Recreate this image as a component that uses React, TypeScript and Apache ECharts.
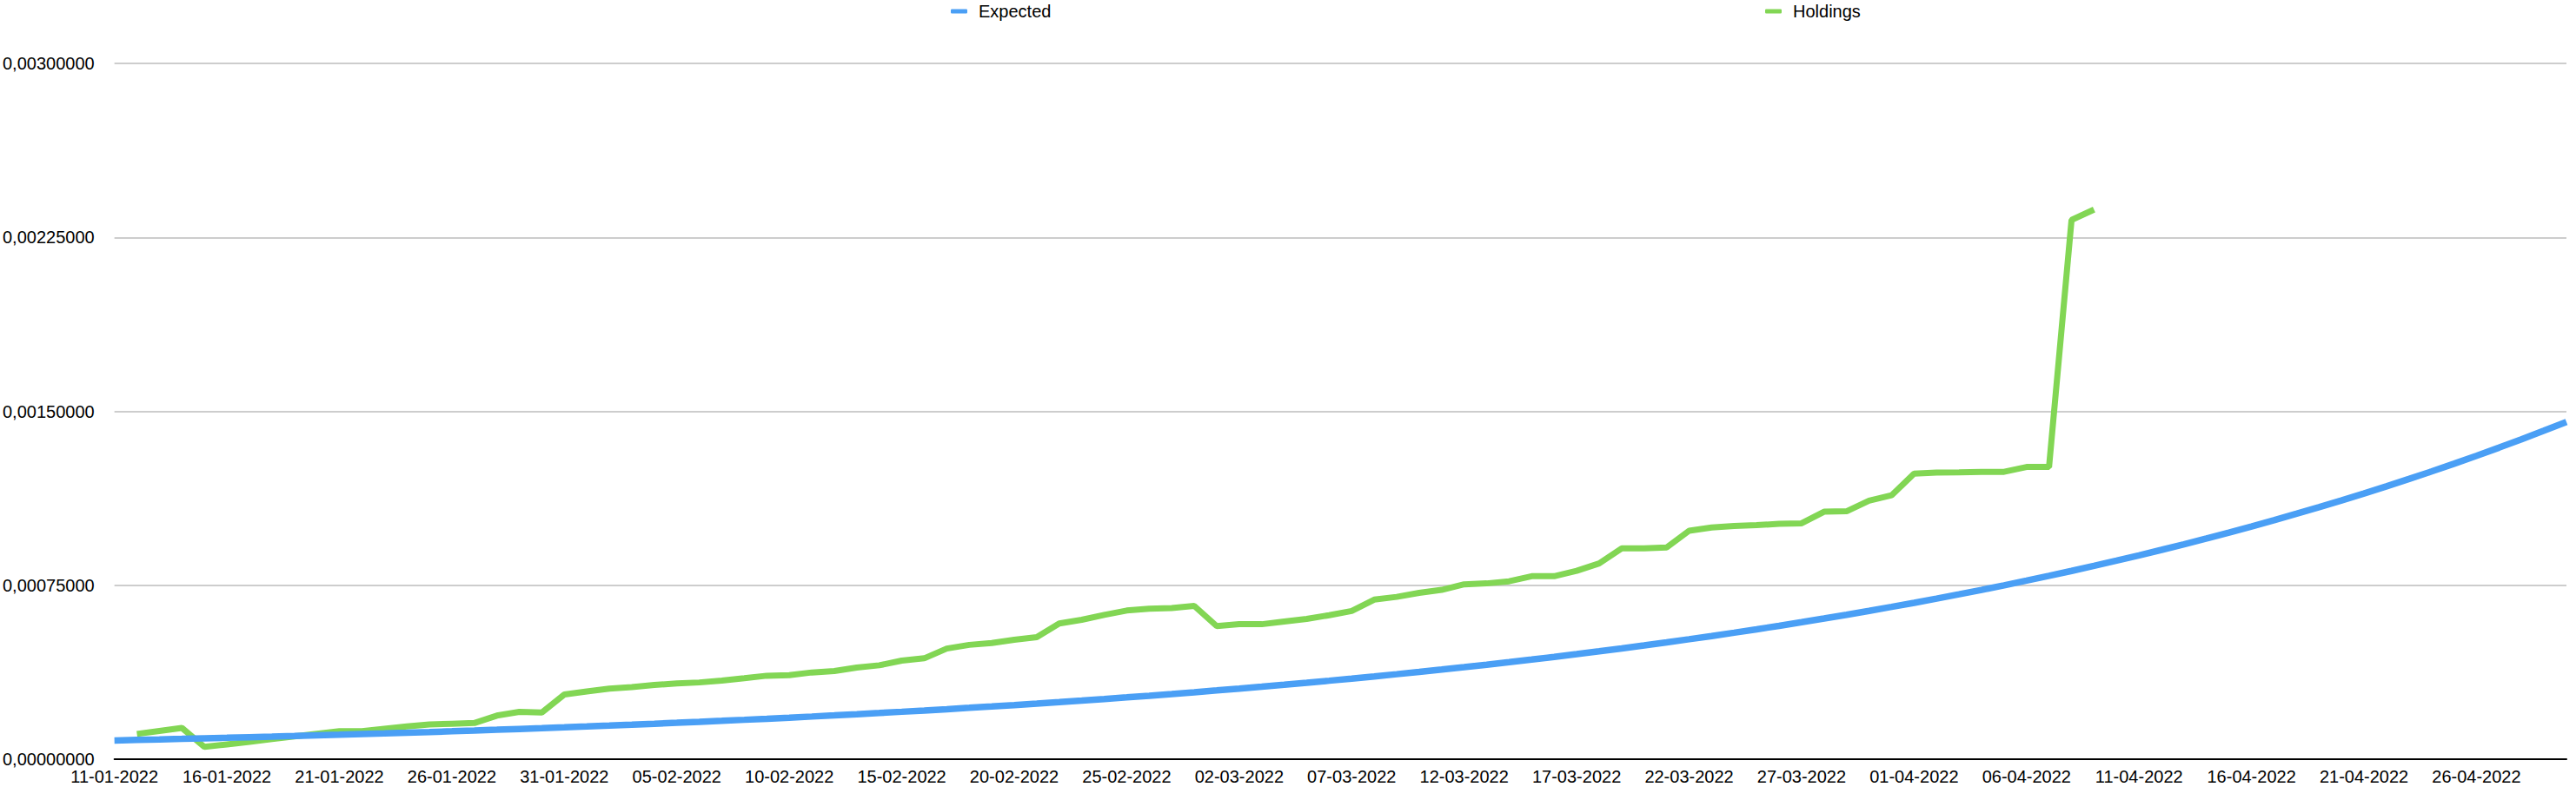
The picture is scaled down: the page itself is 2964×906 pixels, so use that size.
import React, { useEffect, useRef } from "react";
import * as echarts from "echarts";

const dates: string[] = [
  "11-01-2022","12-01-2022","13-01-2022","14-01-2022","15-01-2022","16-01-2022","17-01-2022","18-01-2022","19-01-2022","20-01-2022",
  "21-01-2022","22-01-2022","23-01-2022","24-01-2022","25-01-2022","26-01-2022","27-01-2022","28-01-2022","29-01-2022","30-01-2022",
  "31-01-2022","01-02-2022","02-02-2022","03-02-2022","04-02-2022","05-02-2022","06-02-2022","07-02-2022","08-02-2022","09-02-2022",
  "10-02-2022","11-02-2022","12-02-2022","13-02-2022","14-02-2022","15-02-2022","16-02-2022","17-02-2022","18-02-2022","19-02-2022",
  "20-02-2022","21-02-2022","22-02-2022","23-02-2022","24-02-2022","25-02-2022","26-02-2022","27-02-2022","28-02-2022","01-03-2022",
  "02-03-2022","03-03-2022","04-03-2022","05-03-2022","06-03-2022","07-03-2022","08-03-2022","09-03-2022","10-03-2022","11-03-2022",
  "12-03-2022","13-03-2022","14-03-2022","15-03-2022","16-03-2022","17-03-2022","18-03-2022","19-03-2022","20-03-2022","21-03-2022",
  "22-03-2022","23-03-2022","24-03-2022","25-03-2022","26-03-2022","27-03-2022","28-03-2022","29-03-2022","30-03-2022","31-03-2022",
  "01-04-2022","02-04-2022","03-04-2022","04-04-2022","05-04-2022","06-04-2022","07-04-2022","08-04-2022","09-04-2022","10-04-2022",
  "11-04-2022","12-04-2022","13-04-2022","14-04-2022","15-04-2022","16-04-2022","17-04-2022","18-04-2022","19-04-2022","20-04-2022",
  "21-04-2022","22-04-2022","23-04-2022","24-04-2022","25-04-2022","26-04-2022","27-04-2022","28-04-2022","29-04-2022","30-04-2022",
];

const expected: number[] = [
  80.9e-6, 83.07e-6, 85.3e-6, 87.6e-6, 89.95e-6, 92.36e-6, 94.85e-6, 97.39e-6, 100.01e-6, 102.7e-6,
  105.45e-6, 108.29e-6, 111.2e-6, 114.18e-6, 117.25e-6, 120.4e-6, 123.63e-6, 126.95e-6, 130.36e-6, 133.86e-6,
  137.46e-6, 141.15e-6, 144.94e-6, 148.84e-6, 152.83e-6, 156.94e-6, 161.16e-6, 165.48e-6, 169.93e-6, 174.49e-6,
  179.18e-6, 183.99e-6, 188.93e-6, 194.01e-6, 199.22e-6, 204.57e-6, 210.07e-6, 215.71e-6, 221.5e-6, 227.45e-6,
  233.56e-6, 239.84e-6, 246.28e-6, 252.89e-6, 259.69e-6, 266.66e-6, 273.83e-6, 281.18e-6, 288.73e-6, 296.49e-6,
  304.45e-6, 312.63e-6, 321.03e-6, 329.65e-6, 338.5e-6, 347.6e-6, 356.93e-6, 366.52e-6, 376.37e-6, 386.48e-6,
  396.86e-6, 407.52e-6, 418.46e-6, 429.7e-6, 441.24e-6, 453.1e-6, 465.27e-6, 477.76e-6, 490.6e-6, 503.77e-6,
  517.31e-6, 531.2e-6, 545.47e-6, 560.12e-6, 575.17e-6, 590.62e-6, 606.48e-6, 622.77e-6, 639.5e-6, 656.67e-6,
  674.31e-6, 692.42e-6, 711.02e-6, 730.12e-6, 749.73e-6, 769.87e-6, 790.55e-6, 811.79e-6, 833.59e-6, 855.98e-6,
  878.97e-6, 902.58e-6, 926.82e-6, 951.72e-6, 977.29e-6, 1003.54e-6, 1030.49e-6, 1058.17e-6, 1086.59e-6, 1115.78e-6,
  1145.75e-6, 1176.52e-6, 1208.13e-6, 1240.58e-6, 1273.9e-6, 1308.12e-6, 1343.25e-6, 1379.33e-6, 1416.38e-6, 1454.43e-6,
];

const holdings: (number | null)[] = [
  null, 109e-6, 122e-6, 135e-6, 53e-6, 64e-6, 75e-6, 87e-6, 98e-6, 110e-6,
  121e-6, 121e-6, 131e-6, 141e-6, 150e-6, 153e-6, 156e-6, 188e-6, 204e-6, 201e-6,
  279e-6, 292e-6, 304e-6, 311e-6, 320e-6, 327e-6, 331e-6, 339e-6, 349e-6, 360e-6,
  362e-6, 374e-6, 380e-6, 395e-6, 405e-6, 425e-6, 435e-6, 477e-6, 493e-6, 501e-6,
  515e-6, 526e-6, 585e-6, 601e-6, 622e-6, 641e-6, 649e-6, 652e-6, 661e-6, 574e-6,
  582e-6, 582e-6, 594e-6, 605e-6, 621e-6, 639e-6, 688e-6, 700e-6, 717e-6, 730e-6,
  754e-6, 758e-6, 767e-6, 789e-6, 789e-6, 812e-6, 844e-6, 909e-6, 909e-6, 913e-6,
  985e-6, 999e-6, 1006e-6, 1009e-6, 1015e-6, 1017e-6, 1067e-6, 1069e-6, 1115e-6, 1138e-6,
  1231e-6, 1236e-6, 1237e-6, 1239e-6, 1239e-6, 1260e-6, 1260e-6, 2325e-6, 2370e-6,
];

const yMin = 0;
const yMax = 0.003;
const yInterval = 0.00075;

const FONT = "'Liberation Sans', Arial, Helvetica, sans-serif";
const BLUE = "#4a9ff5";
const GREEN = "#82d654";

export default function App() {
  const ref = useRef<HTMLDivElement>(null);

  useEffect(() => {
    if (!ref.current) return;
    const chart = echarts.init(ref.current, null, { renderer: "svg" });
    chart.setOption({
      animation: false,
      backgroundColor: "#ffffff",
      textStyle: { fontFamily: FONT },
      legend: [
        {
          data: ["Expected"],
          left: 1094,
          top: 3,
          padding: 0,
          icon: "roundRect",
          itemWidth: 19,
          itemHeight: 5,
          textStyle: { fontSize: 20, color: "#000", fontFamily: FONT, padding: [0, 0, 0, 8] },
        },
        {
          data: ["Holdings"],
          left: 2031,
          top: 3,
          padding: 0,
          icon: "roundRect",
          itemWidth: 19,
          itemHeight: 5,
          textStyle: { fontSize: 20, color: "#000", fontFamily: FONT, padding: [0, 0, 0, 8] },
        },
      ],
      grid: { left: 128, right: 11, top: 73, bottom: 32, containLabel: false },
      xAxis: {
        type: "category",
        data: dates,
        boundaryGap: false,
        axisLine: { show: true, lineStyle: { color: "#000", width: 2 } },
        axisTick: { show: false },
        axisLabel: {
          interval: 4,
          fontSize: 20,
          color: "#000",
          fontFamily: FONT,
          margin: 10,
        },
        splitLine: { show: false },
      },
      yAxis: {
        type: "value",
        min: yMin,
        max: yMax,
        interval: yInterval,
        axisLine: { show: false },
        axisTick: { show: false },
        axisLabel: {
          fontSize: 20,
          color: "#000",
          fontFamily: FONT,
          margin: 23,
          formatter: (v: number) => v.toFixed(8).replace(".", ","),
        },
        splitLine: { show: true, lineStyle: { color: "#bcbcbc", width: 1.5 } },
      },
      series: [
        {
          name: "Holdings",
          type: "line",
          data: holdings,
          symbol: "none",
          connectNulls: false,
          lineStyle: { color: GREEN, width: 7 },
          itemStyle: { color: GREEN },
          z: 2,
        },
        {
          name: "Expected",
          type: "line",
          data: expected,
          symbol: "none",
          lineStyle: { color: BLUE, width: 7.5 },
          itemStyle: { color: BLUE },
          z: 3,
        },
      ],
    });
    return () => chart.dispose();
  }, []);

  return (
    <div
      ref={ref}
      style={{ position: "absolute", left: 0, top: 0, width: 2964, height: 906, background: "#fff" }}
    />
  );
}
